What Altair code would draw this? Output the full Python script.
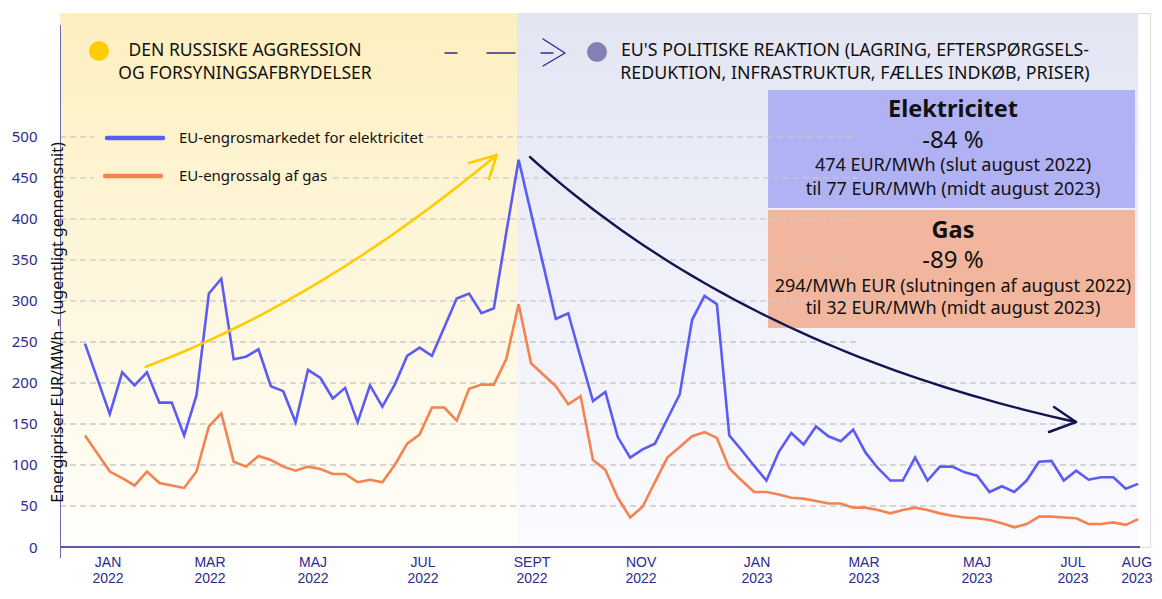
import altair as alt
import pandas as pd
import numpy as np

# ---------------- data (weekly averages, EUR/MWh) ----------------
uge = list(range(86))
elektricitet = [248, 205, 162, 213, 197, 213, 176, 176, 136, 185, 309, 327, 229, 232, 241, 196,
                190, 152, 216, 206, 181, 194, 152, 197, 171, 198, 233, 243, 233, 268, 303, 309,
                285, 291, 383, 472, 407, 343, 278, 285, 231, 178, 189, 134, 109, 119, 126, 156,
                186, 277, 306, 296, 136, 118, 99, 81, 116, 139, 125, 147, 135, 129, 143, 115,
                96, 81, 81, 109, 81, 98, 98, 91, 87, 67, 74, 67, 81, 104, 105, 81,
                93, 82, 85, 85, 71, 77]
gas = [136, 114, 92, 84, 75, 92, 78, 75, 72, 92, 147, 163, 104, 98, 111, 106,
       98, 93, 98, 95, 89, 89, 79, 82, 79, 100, 126, 137, 170, 170, 154, 193,
       198, 198, 229, 296, 224, 210, 196, 174, 184, 106, 94, 60, 36, 49, 79, 109,
       122, 135, 140, 133, 96, 81, 67, 67, 64, 60, 59, 56, 53, 53, 48, 48,
       45, 41, 45, 48, 45, 41, 38, 36, 35, 33, 29, 24, 28, 37, 37, 36,
       35, 28, 28, 30, 27, 34]

maaned_pos = [1.86, 10.09, 18.4, 27.28, 36.08, 44.88, 54.24, 62.87, 72.0, 79.74, 84.9]
maaned = ["JAN", "MAR", "MAJ", "JUL", "SEPT", "NOV", "JAN", "MAR", "MAJ", "JUL", "AUG"]
aar = ["2022"] * 6 + ["2023"] * 5
y_ticks = list(range(0, 501, 50))

serie_navne = ["EU-engrosmarkedet for elektricitet", "EU-engrossalg af gas"]
header_venstre = ["DEN RUSSISKE AGGRESSION", "OG FORSYNINGSAFBRYDELSER"]
header_hoejre = ["EU'S POLITISKE REAKTION (LAGRING, EFTERSPØRGSELS-",
                 "REDUKTION, INFRASTRUKTUR, FÆLLES INDKØB, PRISER)"]
boks_el = ["Elektricitet", "-84 %", "474 EUR/MWh (slut august 2022)", "til 77 EUR/MWh (midt august 2023)"]
boks_gas = ["Gas", "-89 %", "294/MWh EUR (slutningen af august 2022)", "til 32 EUR/MWh (midt august 2023)"]
y_titel = "Energipriser EUR/MWh – (ugentligt gennemsnit)"

# ---------------- layout helpers ----------------
W, H = 1090, 534
KX = 12.39
KY = H / 651.0


def px2x(px):
    return (px - 85.0) / KX


def py2y(py):
    return (547.0 - py) / KY


XD = [px2x(60), px2x(60) + W / KX]
YD = [0, 651]
xs = alt.Scale(domain=XD, nice=False, zero=False)
ys = alt.Scale(domain=YD, nice=False, zero=False)

NAVY = "#2b2b8a"
FONT = "Noto Sans"
BLUE = "#5b5bf6"
ORANGE = "#f4834f"


def X(field):
    return alt.X(field, type="quantitative", scale=xs)


def Y(field):
    return alt.Y(field, type="quantitative", scale=ys)


def grad(top, bottom):
    return alt.Gradient(gradient="linear",
                        stops=[alt.GradientStop(color=top, offset=0),
                               alt.GradientStop(color=bottom, offset=1)],
                        x1=0, x2=0, y1=0, y2=1)


def rect_layer(x1, x2, y1, y2, color):
    d = pd.DataFrame({"x": [x1], "x2": [x2], "y": [y1], "y2": [y2]})
    return alt.Chart(d).mark_rect(color=color).encode(
        x=X("x"), x2="x2:Q", y=Y("y"), y2="y2:Q")


df = pd.DataFrame({"uge": uge, "el": elektricitet, "gas": gas})

# invisible first layer that carries the y axis (x axis labels drawn as text below)
axis_carrier = alt.Chart(df).mark_point(opacity=0).encode(
    x=alt.X("uge:Q", scale=xs, axis=None),
    y=alt.Y("el:Q", scale=ys, title=y_titel,
            axis=alt.Axis(values=y_ticks, domain=False, ticks=False, grid=False,
                          labelFont=FONT, labelFontSize=15, labelColor=NAVY, labelPadding=23,
                          labelAlign="right", labelBaseline="middle",
                          titleFont=FONT, titleFontSize=16, titleFontWeight="normal",
                          titleColor="#111111", titleX=-3, titleY=309, titleAngle=270,
                          titleAlign="center", titleBaseline="middle", zindex=1)))

# backgrounds
bg_yellow = rect_layer(XD[0], px2x(517), 0, 651, grad("#fdefbf", "#fffefa"))
bg_lav = rect_layer(px2x(517), 85.0, 0, 651, grad("#e3e5f3", "#fbfbfe"))
box_el = rect_layer(px2x(768), px2x(1135), py2y(208), py2y(90), "#b0b2f4")
box_gas = rect_layer(px2x(768), px2x(1135), py2y(328), py2y(210), "#f1b69d")

# gridlines
grid_rows = []
for v in y_ticks[1:]:
    end = 85.0 if v <= 200 else px2x(857)
    if v == 500:
        segs = [(px2x(60), px2x(94)), (px2x(427), end)]
    elif v == 450:
        segs = [(px2x(60), px2x(94)), (px2x(333), end)]
    else:
        segs = [(px2x(60), end)]
    for a, b in segs:
        grid_rows.append({"y": v, "x": a, "x2": b})
grid = alt.Chart(pd.DataFrame(grid_rows)).mark_rule(
    color="#c9c9c9", strokeWidth=1.4, strokeDash=[6, 4]).encode(
    x=X("x"), x2="x2:Q", y=Y("y"))

line_el = alt.Chart(df).mark_line(color=BLUE, strokeWidth=2.6).encode(x=X("uge"), y=Y("el"))
line_gas = alt.Chart(df).mark_line(color=ORANGE, strokeWidth=2.6).encode(x=X("uge"), y=Y("gas"))

# x tick labels (two rows: month / year)
lab_df = pd.DataFrame({"pos": maaned_pos, "m": maaned, "a": aar})
lab_month = alt.Chart(lab_df).mark_text(font="Liberation Sans", fontSize=14, color=NAVY,
                                        baseline="middle", align="center").encode(
    x=X("pos"), y=alt.value(563 - 13), text="m:N")
lab_year = alt.Chart(lab_df).mark_text(font="Liberation Sans", fontSize=14, color=NAVY,
                                       baseline="middle", align="center").encode(
    x=X("pos"), y=alt.value(579 - 13), text="a:N")


# curves / decorative strokes
def bezier(p0, c, p2, n=50):
    t = np.linspace(0, 1, n)
    bx = (1 - t) ** 2 * p0[0] + 2 * (1 - t) * t * c[0] + t ** 2 * p2[0]
    by = (1 - t) ** 2 * p0[1] + 2 * (1 - t) * t * c[1] + t ** 2 * p2[1]
    return list(zip(bx, by))


def path_layer(paths, color, width):
    rows = []
    for i, pts in enumerate(paths):
        for j, (px, py) in enumerate(pts):
            rows.append({"x": px2x(px), "y": py2y(py), "seg": i, "o": j})
    return alt.Chart(pd.DataFrame(rows)).mark_line(
        color=color, strokeWidth=width, strokeCap="round", strokeJoin="round").encode(
        x=X("x"), y=Y("y"), detail="seg:N", order="o:Q")


arrow_yellow = path_layer([
    bezier((145.7, 366.7), (320.8, 301.2), (496.7, 155)),
    [(469, 163), (496.7, 155), (489, 179)]], "#ffcc00", 2.6)
arrow_navy = path_layer([
    bezier((530, 157), (743, 349), (1076, 422)),
    [(1054, 407), (1076, 422), (1049, 432)]], "#141450", 2.4)
header_arrow = path_layer([
    [(445, 53), (457, 53)], [(487, 53), (515, 53)], [(541, 53), (553, 53)],
    [(543, 39), (565, 53), (543, 66)]], NAVY, 1.4)
legend_blue = path_layer([[(107, 138), (163, 138)]], BLUE, 4.5)
legend_orange = path_layer([[(105, 176), (161, 176)]], ORANGE, 4.5)

# axis lines
axis_x = alt.Chart(pd.DataFrame({"x": [px2x(60)], "x2": [px2x(1140)], "y": [0]})).mark_rule(
    color=NAVY, strokeWidth=1.5).encode(x=X("x"), x2="x2:Q", y=Y("y"))
axis_y = alt.Chart(pd.DataFrame({"x": [px2x(60.5)], "y": [py2y(25)], "y2": [py2y(558)]})).mark_rule(
    color="#6a6ab0", strokeWidth=1).encode(x=X("x"), y=Y("y"), y2="y2:Q")

# circles in header
circ = pd.DataFrame({"x": [px2x(99), px2x(597)], "y": [py2y(51), py2y(52)],
                     "c": ["#ffcc00", "#8181b3"]})
circles = alt.Chart(circ).mark_point(filled=True, shape="circle", size=400, opacity=1).encode(
    x=X("x"), y=Y("y"), color=alt.Color("c:N", scale=None))


def text_layer(texts, xs_px, ys_px, size, weight="normal", align="center", color="#111111"):
    d = pd.DataFrame({"t": texts, "x": [px2x(v) for v in xs_px], "y": [py2y(v) for v in ys_px]})
    return alt.Chart(d).mark_text(font=FONT, fontSize=size, fontWeight=weight, align=align,
                                  baseline="middle", color=color).encode(
        x=X("x"), y=Y("y"), text="t:N")


BX = 953
texts = [
    text_layer(header_venstre, [245, 245], [51, 74], 17.5),
    text_layer(header_hoejre, [855, 855], [51, 74], 17.8),
    text_layer(serie_navne, [179, 179], [138, 176], 15, align="left"),
    text_layer([boks_el[0], boks_gas[0]], [BX, BX], [110, 231], 23.5, weight="bold"),
    text_layer([boks_el[1], boks_gas[1]], [BX, BX], [141, 261], 24),
    text_layer([boks_el[2], boks_el[3], boks_gas[2], boks_gas[3]], [BX] * 4,
               [166, 190, 287, 309], 18),
]

chart = alt.layer(
    axis_carrier, bg_yellow, bg_lav, box_el, box_gas, grid, line_gas, line_el,
    arrow_yellow, arrow_navy, header_arrow, legend_blue, legend_orange, axis_x, axis_y,
    circles, lab_month, lab_year, *texts
).properties(
    width=W, height=H,
    autosize=alt.AutoSizeParams(type="none"),
    padding={"left": 52, "top": 5, "right": 4, "bottom": 40},
).configure_view(stroke=None).configure(background="white")

chart.save("out.html", embed_options={"renderer": "svg", "actions": False})
